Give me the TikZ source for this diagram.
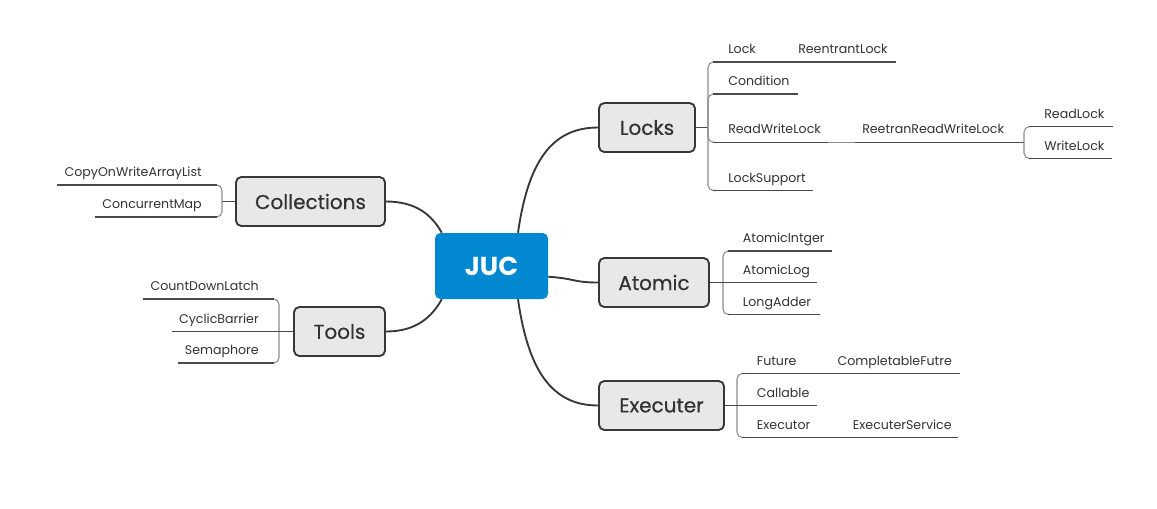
\documentclass[tikz,border=0pt]{standalone}
\usepackage{fontspec}
\setmainfont{Poppins}
\newfontfamily\topicfont[FakeBold=0.6]{Poppins}
\usetikzlibrary{calc}
\definecolor{boxfill}{HTML}{E8E8E8}
\definecolor{boxline}{HTML}{383838}
\definecolor{juc}{HTML}{0288D1}
\definecolor{txt}{HTML}{333333}
\definecolor{brk}{HTML}{8C8C8C}
\definecolor{uln}{HTML}{4A4A4A}
\begin{document}
\begin{tikzpicture}[x=0.75pt,y=-0.75pt,
 topic/.style={draw=boxline,fill=boxfill,line width=1.4pt,rounded corners=4pt,text=txt,font=\topicfont\fontsize{15}{18}\selectfont,inner sep=0pt,minimum height=36.75pt},
 central/.style={fill=juc,rounded corners=4pt,text=white,font=\bfseries\fontsize{19.5}{22}\selectfont,inner sep=0pt,minimum width=84.75pt,minimum height=49.5pt},
 mainlink/.style={draw=boxline,line width=1.4pt},
 stub/.style={draw=uln,line width=1.1pt},
 bracket/.style={draw=brk,line width=0.8pt,rounded corners=4pt},
 uline/.style={draw=uln,line width=0.8pt},
 lbl/.style={text=txt,font=\fontsize{9.45}{11}\selectfont,inner sep=0pt},
]
\useasboundingbox (0,0) rectangle (1157,508);
\fill[white] (0,0) rectangle (1157,508);

% topics
\node[central] (juc) at (491.5,266) {JUC};
\node[topic,minimum width=72pt] (locks) at (647,127.5) {Locks};
\node[topic,minimum width=111.75pt] (collections) at (310.5,201.5) {Collections};
\node[topic,minimum width=68.25pt] (tools) at (339.5,331.5) {Tools};
\node[topic,minimum width=82.5pt] (atomic) at (654,282.5) {Atomic};
\node[topic,minimum width=93.75pt] (executer) at (661.5,405.5) {Executer};

% main links
\draw[mainlink] ($(juc.north)+(26.5,0)$) .. controls +(10,-70) and +(-47,0) .. (locks.west);
\draw[mainlink] ($(juc.south)+(26.5,0)$) .. controls +(10,70) and +(-47,0) .. (executer.west);
\draw[mainlink] ($(juc.east)+(0,10.7)$) .. controls +(28,2) and +(-25,0) .. (atomic.west);
\draw[mainlink] ($(juc.north west)+(7,0)$) .. controls +(-10,-18) and +(30,0) .. (collections.east);
\draw[mainlink] ($(juc.south west)+(7,0)$) .. controls +(-10,18) and +(30,0) .. (tools.east);

% ---------- Locks ----------
\coordinate (lkj) at (708,127.5);
\draw[stub] (locks.east) -- (lkj);
\node[lbl,anchor=base west] (lock) at (728,53.5) {Lock};
\node[lbl,anchor=base west] (reentrant) at (798,53.5) {ReentrantLock};
\node[lbl,anchor=base west] (condition) at (728,85.5) {Condition};
\node[lbl,anchor=base west] (rwlock) at (728,133.8) {ReadWriteLock};
\node[lbl,anchor=base west] (rrwlock) at (862,133.8) {ReetranReadWriteLock};
\node[lbl,anchor=base west] (readlock) at (1044,118.2) {ReadLock};
\node[lbl,anchor=base west] (writelock) at (1044,150) {WriteLock};
\node[lbl,anchor=base west] (locksupport) at (728,182) {LockSupport};

\draw[bracket] (lkj) -- (708,62) -- (716,62);
\draw[bracket] (lkj) -- (708,94) -- (716,94);
\draw[bracket] (lkj) -- (708,142.3) -- (716,142.3);
\draw[bracket] (lkj) -- (708,190.5) -- (716,190.5);
\draw[uline] (713,62) -- ($(reentrant.base east)+(8,8.5)$);
\draw[uline] (713,94) -- ($(condition.base east)+(8,8.5)$);
\draw[uline] (713,142.3) -- ($(rwlock.base east)+(7,8.5)$);
\draw[draw=brk,line width=1pt] ($(rwlock.base east)+(7,8.5)$) -- ($(rrwlock.base west)+(-7,8.5)$);
\coordinate (rrj) at (1024,142.3);
\draw[uline,line width=1pt] ($(rrwlock.base west)+(-7,8.5)$) -- (rrj);
\draw[uline] (713,190.5) -- ($(locksupport.base east)+(7,8.5)$);
\draw[bracket] (rrj) -- (1024,126.7) -- (1032,126.7);
\draw[bracket] (rrj) -- (1024,158.5) -- (1032,158.5);
\draw[uline] (1029,126.7) -- ($(readlock.base east)+(8,8.5)$);
\draw[uline] (1029,158.5) -- ($(writelock.base east)+(7,8.5)$);

% ---------- Atomic ----------
\coordinate (atj) at (723,282.5);
\node[lbl,anchor=base west] (aint) at (742.7,242.5) {AtomicIntger};
\node[lbl,anchor=base west] (alog) at (742.7,274) {AtomicLog};
\node[lbl,anchor=base west] (ladd) at (742.7,306) {LongAdder};
\draw[bracket] (atj) -- (723,251) -- (731,251);
\draw[bracket] (atj) -- (723,314.5) -- (731,314.5);
\draw[uline] (728,251) -- ($(aint.base east)+(7,8.5)$);
\draw[uline] (atomic.east) -- ($(alog.base east)+(7,8.5)$);
\draw[uline] (728,314.5) -- ($(ladd.base east)+(9,8.5)$);

% ---------- Executer ----------
\coordinate (exj) at (737,405.5);
\node[lbl,anchor=base west] (future) at (756.7,365) {Future};
\node[lbl,anchor=base west] (cfuture) at (837.3,365) {CompletableFutre};
\node[lbl,anchor=base west] (callable) at (756.7,397) {Callable};
\node[lbl,anchor=base west] (executor) at (756.7,429) {Executor};
\node[lbl,anchor=base west] (eservice) at (852.7,429) {ExecuterService};
\draw[bracket] (exj) -- (737,373.5) -- (745,373.5);
\draw[bracket] (exj) -- (737,437.5) -- (745,437.5);
\draw[uline] (742,373.5) -- ($(cfuture.base east)+(8,8.5)$);
\draw[uline] (executer.east) -- ($(callable.base east)+(7,8.5)$);
\draw[uline] (742,437.5) -- ($(eservice.base east)+(6,8.5)$);

% ---------- Collections ----------
\coordinate (colj) at (222,201.5);
\draw[stub] (collections.west) -- (colj);
\node[lbl,anchor=base east] (cow) at (202,176.5) {CopyOnWriteArrayList};
\node[lbl,anchor=base east] (cmap) at (202,208.5) {ConcurrentMap};
\draw[bracket] (colj) -- (222,185) -- (214,185);
\draw[bracket] (colj) -- (222,217) -- (214,217);
\draw[uline] ($(cow.base west)+(-7,8.5)$) -- (217,185);
\draw[uline] ($(cmap.base west)+(-7,8.5)$) -- (217,217);

% ---------- Tools ----------
\coordinate (tlj) at (279,331.5);
\node[lbl,anchor=base east] (cdl) at (259,290.5) {CountDownLatch};
\node[lbl,anchor=base east] (cyc) at (259,323) {CyclicBarrier};
\node[lbl,anchor=base east] (sem) at (259,354.5) {Semaphore};
\draw[bracket] (tlj) -- (279,299) -- (271,299);
\draw[bracket] (tlj) -- (279,363) -- (271,363);
\draw[uline] ($(cdl.base west)+(-7,8.5)$) -- (274,299);
\draw[uline] ($(cyc.base west)+(-7,8.5)$) -- (tools.west);
\draw[uline] ($(sem.base west)+(-7,8.5)$) -- (274,363);
\end{tikzpicture}
\end{document}
